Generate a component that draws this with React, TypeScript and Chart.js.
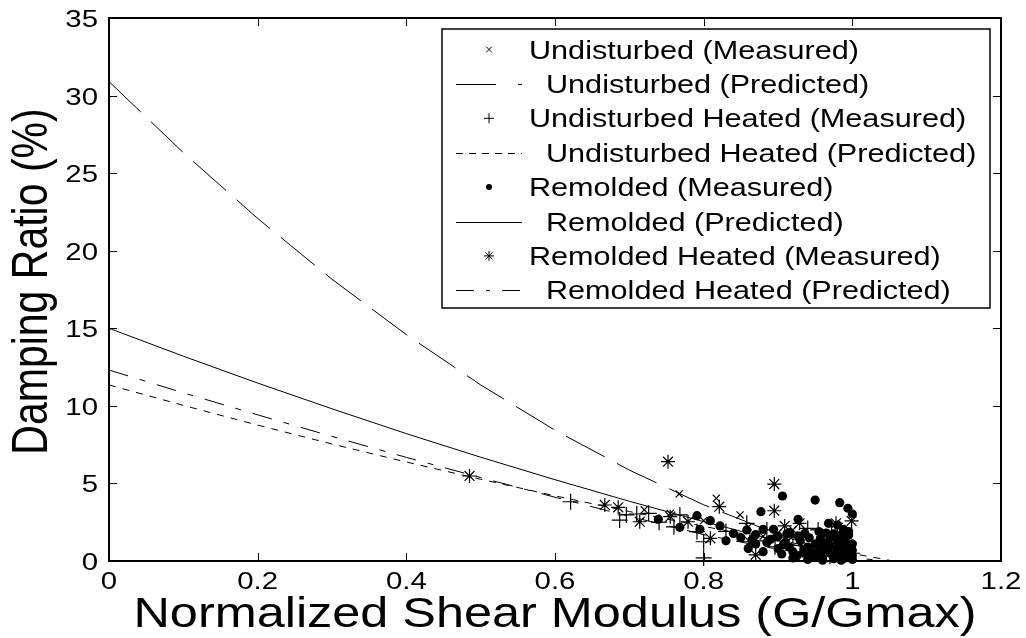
import React, { useEffect, useRef } from "react";
import { Chart, registerables } from "chart.js";

Chart.register(...registerables);

// ---------- data ----------
const xTickValues = [0, 0.2, 0.4, 0.6, 0.8, 1, 1.2];
const xTickLabels = ["0", "0.2", "0.4", "0.6", "0.8", "1", "1.2"];
const yTickValues = [0, 5, 10, 15, 20, 25, 30, 35];
const yTickLabels = ["0", "5", "10", "15", "20", "25", "30", "35"];

const xAxisTitle = "Normalized Shear Modulus (G/Gmax)";
const yAxisTitle = "Damping Ratio (%)";

const legendLabels = [
  "Undisturbed (Measured)",
  "Undisturbed (Predicted)",
  "Undisturbed Heated (Measured)",
  "Undisturbed Heated (Predicted)",
  "Remolded (Measured)",
  "Remolded (Predicted)",
  "Remolded Heated (Measured)",
  "Remolded Heated (Predicted)",
];

// predicted curves
const predX = [0, 0.1, 0.2, 0.3, 0.4, 0.5, 0.6, 0.7, 0.8, 0.9, 1.0, 1.05];
const undisturbedPred = [30.9, 26.32, 22.08, 18.16, 14.59, 11.35, 8.43, 5.86, 3.62, 1.72, 0.14, null];
const undisturbedHeatedPred = [11.35, 10.03, 8.76, 7.54, 6.38, 5.27, 4.2, 3.19, 2.23, 1.33, 0.48, 0.05];
const remoldedPred = [15, 13.2, 11.47, 9.81, 8.21, 6.69, 5.24, 3.85, 2.54, 1.3, 0.12, null];
const remoldedHeatedPred = [12.31, 10.84, 9.42, 8.03, 6.68, 5.38, 4.11, 2.88, 1.7, 0.75, 0.2, 0.0];

// measured points
const undisturbedX = [0.72, 0.755, 0.767, 0.8, 0.817, 0.849, 0.86, 0.88, 0.9, 0.92, 0.93, 0.94, 0.95, 0.96, 0.97, 0.98, 0.99, 1.0];
const undisturbedY = [3.3, 3.07, 4.32, 2.6, 4.04, 2.97, 2.2, 1.6, 1.8, 2.0, 1.4, 0.7, 1.0, 0.4, 0.8, 1.2, 0.5, 0.3];

const undisturbedHeatedX = [0.621, 0.687, 0.696, 0.71, 0.726, 0.74, 0.76, 0.768, 0.791, 0.8, 0.8, 0.83, 0.858, 0.87, 0.885, 0.896, 0.91, 0.93, 0.94, 0.95, 0.954, 0.97, 0.972, 0.99, 1.0, 0.96, 0.98, 0.995];
const undisturbedHeatedY = [3.82, 2.64, 2.97, 3.03, 3.07, 2.5, 2.2, 2.97, 1.89, 1.24, 0.2, 1.9, 2.43, 1.3, 2.0, 0.92, 1.5, 1.0, 2.1, 0.6, 2.0, 0.3, 1.89, 0.9, 0.5, 1.3, 1.6, 1.2];

const remoldedX = [
  0.739, 0.768, 0.791, 0.795, 0.809, 0.822, 0.84, 0.858, 0.865, 0.877, 0.88, 0.894, 0.906, 0.907, 0.916, 0.927, 0.934, 0.936, 0.95, 0.957, 0.968, 0.98, 0.983, 0.988, 0.994, 0.995, 1.0,
  0.83, 0.85, 0.86, 0.87, 0.88, 0.89, 0.9, 0.91, 0.92, 0.92, 0.93, 0.94, 0.94, 0.95, 0.95,
  0.96, 0.96, 0.96, 0.96, 0.965, 0.97, 0.97, 0.97, 0.975, 0.98, 0.98, 0.98, 0.985, 0.985, 0.99, 0.99, 0.99, 0.99, 0.995, 0.995, 1.0, 1.0, 1.0, 1.0,
  0.905, 0.915, 0.925, 0.935, 0.945, 0.955, 0.9, 0.912, 0.928, 0.942, 0.955, 0.965, 0.975, 0.985, 0.995, 0.87, 0.885, 0.898,
];
const remoldedY = [
  2.69, 2.17, 2.92, 2.04, 2.6, 2.26, 1.78, 2.0, 1.35, 3.18, 2.04, 2.04, 4.19, 1.03, 1.83, 2.69, 0.5, 1.78, 3.93, 1.46, 2.43, 2.32, 3.76, 2.04, 3.4, 1.68, 3.03,
  1.3, 1.5, 0.8, 1.1, 0.6, 1.4, 0.8, 1.2, 0.6, 0.2, 1.3, 0.9, 0.1, 0.3, 1.1,
  0.2, 0.7, 1.2, 0.05, 1.0, 0.5, 1.0, 1.5, 0.15, 0.4, 0.8, 1.3, 0.05, 1.1, 0.2, 0.6, 1.0, 1.4, 0.4, 0.85, 0.1, 0.7, 1.1, 0.35,
  0.45, 0.9, 0.3, 0.75, 0.55, 0.7, 1.6, 1.75, 1.6, 1.5, 1.9, 1.8, 1.75, 1.7, 1.9, 1.7, 1.2, 1.55,
];

const remoldedHeatedX = [0.485, 0.667, 0.685, 0.714, 0.752, 0.755, 0.779, 0.809, 0.821, 0.862, 0.87, 0.895, 0.895, 0.909, 0.92, 0.929, 0.943, 0.96, 0.978, 0.98, 0.99, 0.999];
const remoldedHeatedY = [5.48, 3.61, 3.46, 2.53, 6.4, 2.86, 2.53, 1.46, 3.5, 1.24, 0.4, 4.96, 3.24, 2.26, 1.6, 2.43, 0.6, 1.2, 2.43, 0.8, 1.6, 2.58];

// ---------- helpers ----------
const FONT = '"Liberation Sans", Arial, sans-serif';
const SX = 1.2; // horizontal stretch of the reference's text

const pts = (xs: number[], ys: (number | null)[]) =>
  xs.map((x, i) => ({ x, y: ys[i] })).filter((p) => p.y !== null) as { x: number; y: number }[];

function stretchText(
  ctx: CanvasRenderingContext2D,
  text: string,
  x: number,
  y: number,
  size: number,
  align: CanvasTextAlign
) {
  ctx.save();
  ctx.translate(x, y);
  ctx.scale(SX, 1);
  ctx.font = `${size}px ${FONT}`;
  ctx.textAlign = align;
  ctx.textBaseline = "alphabetic";
  ctx.fillStyle = "#000";
  ctx.fillText(text, 0, 0);
  ctx.restore();
}

function drawMarker(ctx: CanvasRenderingContext2D, kind: string, x: number, y: number, r: number) {
  ctx.save();
  ctx.strokeStyle = "#000";
  ctx.fillStyle = "#000";
  ctx.lineWidth = 1;
  ctx.beginPath();
  if (kind === "circle") {
    ctx.arc(x, y, r, 0, Math.PI * 2);
    ctx.fill();
  } else {
    if (kind === "cross" || kind === "star") {
      ctx.moveTo(x - r, y);
      ctx.lineTo(x + r, y);
      ctx.moveTo(x, y - r);
      ctx.lineTo(x, y + r);
    }
    if (kind === "crossRot" || kind === "star") {
      const d = r * Math.SQRT1_2;
      ctx.moveTo(x - d, y - d);
      ctx.lineTo(x + d, y + d);
      ctx.moveTo(x - d, y + d);
      ctx.lineTo(x + d, y - d);
    }
    ctx.stroke();
  }
  ctx.restore();
}

const legendItems = [
  { type: "marker", style: "crossRot", r: 4 },
  { type: "line", dash: [40, 22] },
  { type: "marker", style: "cross", r: 5 },
  { type: "line", dash: [7, 6] },
  { type: "marker", style: "circle", r: 3 },
  { type: "line", dash: [] },
  { type: "marker", style: "star", r: 5 },
  { type: "line", dash: [18, 12, 4, 12] },
];

const framePlugin = {
  id: "matlabFrame",
  afterDatasetsDraw(chart: any) {
    const ctx: CanvasRenderingContext2D = chart.ctx;
    const { left, right, top, bottom } = chart.chartArea;
    const xs = chart.scales.x;
    const ys = chart.scales.y;

    // frame
    ctx.save();
    ctx.strokeStyle = "#000";
    ctx.lineWidth = 2;
    ctx.strokeRect(left, top, right - left, bottom - top);

    // inward ticks on all four sides
    ctx.lineWidth = 1;
    ctx.beginPath();
    xTickValues.forEach((v) => {
      const px = Math.round(xs.getPixelForValue(v)) + 0.5;
      ctx.moveTo(px, bottom);
      ctx.lineTo(px, bottom - 8);
      ctx.moveTo(px, top);
      ctx.lineTo(px, top + 8);
    });
    yTickValues.forEach((v) => {
      const py = Math.round(ys.getPixelForValue(v)) + 0.5;
      ctx.moveTo(left, py);
      ctx.lineTo(left + 8, py);
      ctx.moveTo(right, py);
      ctx.lineTo(right - 8, py);
    });
    ctx.stroke();
    ctx.restore();

    // tick labels
    xTickValues.forEach((v, i) => {
      stretchText(ctx, xTickLabels[i], xs.getPixelForValue(v), bottom + 28, 24.5, "center");
    });
    yTickValues.forEach((v, i) => {
      stretchText(ctx, yTickLabels[i], left - 11, ys.getPixelForValue(v) + 9, 24.5, "right");
    });

    // axis titles
    stretchText(ctx, xAxisTitle, (left + right) / 2, bottom + 66, 42, "center");
    ctx.save();
    ctx.translate(left - 62, (top + bottom) / 2 - 8);
    ctx.rotate(-Math.PI / 2);
    ctx.scale(1, SX);
    ctx.font = `41px ${FONT}`;
    ctx.textAlign = "center";
    ctx.textBaseline = "alphabetic";
    ctx.fillStyle = "#000";
    ctx.fillText(yAxisTitle, 0, 0);
    ctx.restore();

    // legend box
    const lx0 = 442, ly0 = 29, lx1 = 990, ly1 = 308;
    ctx.save();
    ctx.fillStyle = "#fff";
    ctx.fillRect(lx0, ly0, lx1 - lx0, ly1 - ly0);
    ctx.strokeStyle = "#000";
    ctx.lineWidth = 1.5;
    ctx.strokeRect(lx0, ly0, lx1 - lx0, ly1 - ly0);
    ctx.restore();

    legendItems.forEach((item, i) => {
      const cy = 49.5 + i * 34.4;
      if (item.type === "marker") {
        drawMarker(ctx, item.style as string, 489, cy, item.r as number);
        stretchText(ctx, legendLabels[i], 529, cy + 9, 25.5, "left");
      } else {
        ctx.save();
        ctx.strokeStyle = "#000";
        ctx.lineWidth = 1;
        ctx.setLineDash(item.dash as number[]);
        ctx.beginPath();
        ctx.moveTo(456, Math.round(cy) + 0.5);
        ctx.lineTo(522, Math.round(cy) + 0.5);
        ctx.stroke();
        ctx.restore();
        stretchText(ctx, legendLabels[i], 546, cy + 9, 25.5, "left");
      }
    });
  },
};

export default function App() {
  const ref = useRef<HTMLCanvasElement | null>(null);

  useEffect(() => {
    if (!ref.current) return;
    const lineDs = (label: string, ys: (number | null)[], dash: number[], order: number) => ({
      label,
      data: pts(predX, ys),
      showLine: true,
      borderColor: "#000",
      borderWidth: 1,
      borderDash: dash,
      pointRadius: 0,
      fill: false,
      tension: 0,
      order,
    });
    const markDs = (label: string, xs: number[], ys: number[], style: string, r: number, order: number) => ({
      label,
      data: pts(xs, ys),
      showLine: false,
      pointStyle: style,
      pointRadius: r,
      pointBorderWidth: style === "circle" ? 0 : 1.2,
      pointBorderColor: "#000",
      pointBackgroundColor: "#000",
      clip: false,
      order,
    });

    const chart = new Chart(ref.current, {
      type: "scatter",
      data: {
        datasets: [
          markDs(legendLabels[0], undisturbedX, undisturbedY, "crossRot", 5, 8),
          lineDs(legendLabels[1], undisturbedPred, [44, 14], 7),
          markDs(legendLabels[2], undisturbedHeatedX, undisturbedHeatedY, "cross", 8, 6),
          lineDs(legendLabels[3], undisturbedHeatedPred, [7, 7], 5),
          markDs(legendLabels[4], remoldedX, remoldedY, "circle", 4.6, 4),
          lineDs(legendLabels[5], remoldedPred, [], 3),
          markDs(legendLabels[6], remoldedHeatedX, remoldedHeatedY, "star", 7, 2),
          lineDs(legendLabels[7], remoldedHeatedPred, [20, 12, 6, 12], 1),
        ] as any,
      },
      options: {
        animation: false,
        responsive: false,
        devicePixelRatio: 1,
        layout: { padding: { top: 18, right: 25, left: 0, bottom: 0 } },
        plugins: { legend: { display: false }, tooltip: { enabled: false } },
        scales: {
          x: {
            type: "linear",
            min: 0,
            max: 1.2,
            grid: { display: false },
            border: { display: false },
            ticks: { display: false },
            afterFit: (s: any) => {
              s.height = 77;
            },
          },
          y: {
            type: "linear",
            min: 0,
            max: 35,
            grid: { display: false },
            border: { display: false },
            ticks: { display: false },
            afterFit: (s: any) => {
              s.width = 109;
            },
          },
        },
      } as any,
      plugins: [framePlugin],
    });
    return () => chart.destroy();
  }, []);

  return (
    <div style={{ position: "absolute", left: 0, top: 0, width: 1026, height: 638, background: "#fff" }}>
      <canvas ref={ref} width={1026} height={638} style={{ display: "block" }} />
    </div>
  );
}
